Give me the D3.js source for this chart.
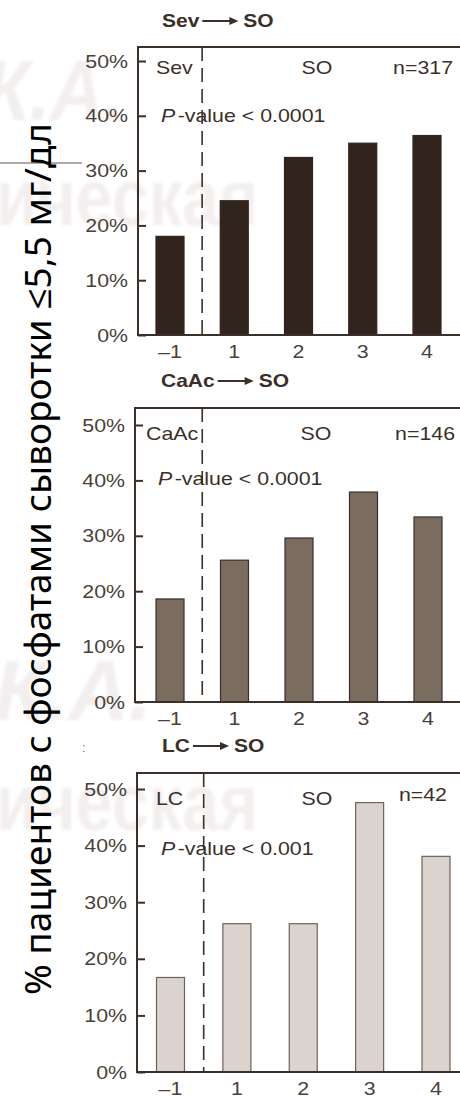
<!DOCTYPE html>
<html>
<head>
<meta charset="utf-8">
<script src="https://cdn.jsdelivr.net/npm/d3@7"></script>
<style>
  html, body { margin: 0; padding: 0; background: #ffffff; }
  svg { display: block; }
</style>
</head>
<body>
<svg id="chart" width="460" height="1097"></svg>
<script>
// Share of patients with serum phosphate <=5.5 mg/dl, by period, for three binder switch groups
const categories = ["–1", "1", "2", "3", "4"];
const sevValues  = [18.0, 24.5, 32.4, 35.0, 36.4];
const caacValues = [18.6, 25.6, 29.6, 37.9, 33.4];
const lcValues   = [16.7, 26.2, 26.2, 47.6, 38.1];
const yTicks = [0, 10, 20, 30, 40, 50];
const fromLabels = ["Sev", "CaAc", "LC"];
const toLabel = "SO";
const nLabels = ["n=317", "n=146", "n=42"];
const pLabels = ["-value < 0.0001", "-value < 0.0001", "-value < 0.001"];
const yAxisTitle = "% пациентов с фосфатами сыворотки ≤5,5 мг/дл";

const svg = d3.select("#chart");
const INK = "#3b2f28";
const LABEL = "#4a3f39";
const SX = 1.22;           // horizontal stretch of the figure's lettering
const FONT = "'Liberation Sans', Arial, sans-serif";
const FS = 17.5;

// soft blur for the background watermark
svg.append("defs").append("filter").attr("id", "soft")
  .append("feGaussianBlur").attr("stdDeviation", 1.6);

// faint background watermark
const wm = svg.append("g").attr("fill", "#f3efee").attr("font-family", FONT)
  .attr("font-weight", "bold").attr("filter", "url(#soft)");
[
  { t: "К.А.", x: -16, y: 120, len: 140, size: 86, it: true },
  { t: "ическая", x: -4, y: 225, len: 262, size: 80, it: false },
  { t: "К.А.", x: -6, y: 720, len: 158, size: 86, it: true },
  { t: "ическая", x: -4, y: 830, len: 262, size: 80, it: false }
].forEach(w => {
  wm.append("text").attr("x", w.x).attr("y", w.y)
    .attr("font-size", w.size).attr("font-style", w.it ? "italic" : "normal")
    .attr("textLength", w.len).attr("lengthAdjust", "spacingAndGlyphs")
    .text(w.t);
});

// stray rule and marks at the left margin
svg.append("line").attr("x1", 0).attr("x2", 82).attr("y1", 163).attr("y2", 163)
  .attr("stroke", "#8f8f8f").attr("stroke-width", 1.5);
svg.append("text").attr("x", 82).attr("y", 752).attr("font-size", 12)
  .attr("font-family", FONT).attr("fill", "#2f6fd6").text(":");

// vertical axis title
svg.append("text")
  .attr("transform", "translate(51,995) rotate(-90)")
  .attr("font-family", "'Noto Sans', 'Open Sans', sans-serif")
  .attr("font-size", 37)
  .attr("fill", "#000")
  .attr("textLength", 872)
  .attr("lengthAdjust", "spacingAndGlyphs")
  .text(yAxisTitle);

function stretchedText(g, x, y, str, anchor, opts = {}) {
  const t = g.append("text")
    .attr("transform", `translate(${x},${y}) scale(${opts.sx || SX},1)`)
    .attr("text-anchor", anchor)
    .attr("font-family", FONT)
    .attr("font-size", opts.size || FS)
    .attr("font-weight", opts.weight || "normal")
    .attr("fill", opts.fill || INK)
    .text(str);
  return t;
}

const panels = [
  { values: sevValues,  fill: "#30241c", stroke: "#30241c",
    frameTop: 47,  y0: 335,  y50: 61,  left: 138, xFirst: 170,   xLast: 427,
    titleX: 162, titleY: 27,
    fromX: 156, innerY: 74, soX: 317, nX: 453, nY: 74, pX: 161, pY: 122 },
  { values: caacValues, fill: "#7a6c5f", stroke: "#3b2f28",
    frameTop: 408, y0: 702,  y50: 425, left: 135, xFirst: 170,   xLast: 428,
    titleX: 161, titleY: 387,
    fromX: 146, innerY: 440, soX: 316, nX: 455, nY: 440, pX: 158, pY: 485 },
  { values: lcValues,   fill: "#dbd3cd", stroke: "#6e625a",
    frameTop: 773, y0: 1072, y50: 789, left: 137, xFirst: 170.5, xLast: 436,
    titleX: 162, titleY: 752,
    fromX: 156, innerY: 805, soX: 317, nX: 447, nY: 801, pX: 161, pY: 855 }
];

panels.forEach((p, i) => {
  const g = svg.append("g");
  const y = d3.scaleLinear().domain([0, 50]).range([p.y0, p.y50]);
  const x = d3.scalePoint().domain(categories).range([p.xFirst, p.xLast]);
  const barW = 28;

  // bars
  g.selectAll("rect.bar").data(p.values).join("rect")
    .attr("class", "bar")
    .attr("x", (d, j) => x(categories[j]) - barW / 2)
    .attr("y", d => y(d))
    .attr("width", barW)
    .attr("height", d => p.y0 - y(d))
    .attr("fill", p.fill)
    .attr("stroke", p.stroke)
    .attr("stroke-width", 1.2);

  // y axis: inward ticks, labels on the left
  const ax = g.append("g").attr("transform", `translate(${p.left},0)`)
    .call(d3.axisLeft(y).tickValues(yTicks).tickSize(-8).tickPadding(10)
      .tickFormat(d => d + "%"));
  ax.select(".domain").remove();
  ax.selectAll(".tick line").attr("stroke", INK).attr("stroke-width", 2);
  ax.selectAll(".tick text")
    .attr("font-family", FONT).attr("font-size", FS).attr("fill", LABEL)
    .attr("x", -10 / SX).attr("dy", null).attr("y", 6)
    .attr("transform", `scale(${SX},1)`);

  // frame: top, left, bottom (open to the right edge)
  g.append("path")
    .attr("d", `M462,${p.frameTop}H${p.left}V${p.y0}H462`)
    .attr("fill", "none").attr("stroke", INK).attr("stroke-width", 2);

  // x category labels
  categories.forEach(c => {
    stretchedText(g, x(c), p.y0 + 23, c, "middle", { fill: LABEL });
  });

  // dashed divider between baseline period and switch periods
  const divX = (x(categories[0]) + x(categories[1])) / 2;
  g.append("line")
    .attr("x1", divX).attr("x2", divX).attr("y1", p.frameTop).attr("y2", p.y0)
    .attr("stroke", INK).attr("stroke-width", 1.6).attr("stroke-dasharray", "14,7");

  // in-plot labels
  stretchedText(g, p.fromX, p.innerY, fromLabels[i], "start");
  stretchedText(g, p.soX, p.innerY, toLabel, "middle");
  stretchedText(g, p.nX, p.nY, nLabels[i], "end");
  const pt = stretchedText(g, p.pX, p.pY, "", "start");
  pt.append("tspan").attr("font-style", "italic").text("P");
  pt.append("tspan").attr("dx", 2).text(pLabels[i]);

  // panel title: "<from> ⟶ SO"
  const from = stretchedText(g, p.titleX, p.titleY, fromLabels[i], "start",
    { weight: "bold", sx: 1.2 });
  const fromW = from.node().getComputedTextLength() * 1.2;
  const a0 = p.titleX + fromW + 3;
  const a1 = a0 + 36;
  const ay = p.titleY - 6;
  g.append("line").attr("x1", a0).attr("x2", a1 - 7).attr("y1", ay).attr("y2", ay)
    .attr("stroke", INK).attr("stroke-width", 2);
  g.append("path").attr("d", `M${a1},${ay}L${a1 - 9},${ay - 4}L${a1 - 9},${ay + 4}Z`)
    .attr("fill", INK);
  stretchedText(g, a1 + 5, p.titleY, toLabel, "start", { weight: "bold", sx: 1.2 });
});
</script>
</body>
</html>
